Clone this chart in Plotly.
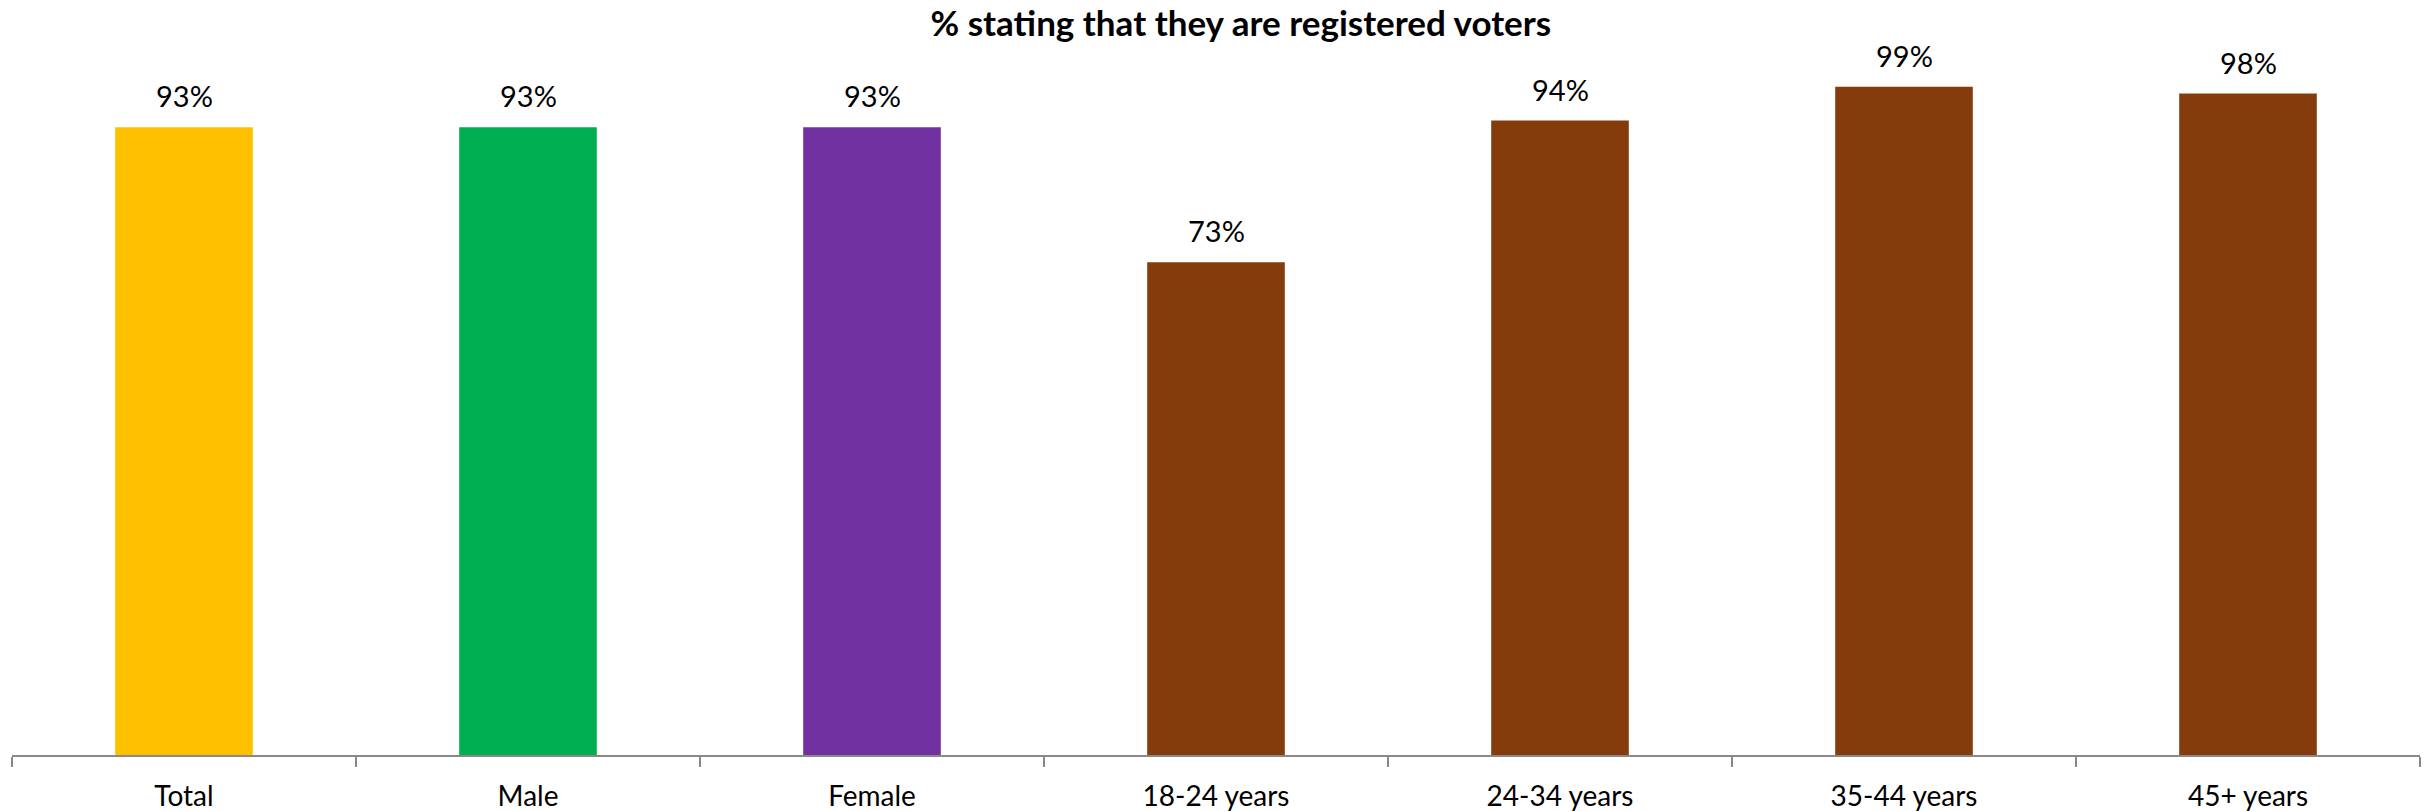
import plotly.graph_objects as go

categories = ["Total", "Male", "Female", "18-24 years", "24-34 years", "35-44 years", "45+ years"]
values = [93, 93, 93, 73, 94, 99, 98]
labels = ["93%", "93%", "93%", "73%", "94%", "99%", "98%"]
colors = ["#FFC000", "#00B050", "#7030A0", "#843C0C", "#843C0C", "#843C0C", "#843C0C"]

FONT = "Lato, Roboto, Arial, sans-serif"

fig = go.Figure(
    go.Bar(
        x=categories,
        y=values,
        marker=dict(color=colors, line=dict(width=0)),
        width=0.4,
        hoverinfo="x+y",
    )
)

for c, v, t in zip(categories, values, labels):
    fig.add_annotation(
        x=c, y=v, xref="x", yref="y",
        text=t, showarrow=False,
        yanchor="bottom", yshift=12,
        font=dict(family=FONT, size=29, color="#000000"),
    )

fig.update_layout(
    width=2433,
    height=811,
    paper_bgcolor="white",
    plot_bgcolor="white",
    margin=dict(l=12, r=13, t=80, b=56, autoexpand=False),
    showlegend=False,
    title=dict(
        text="<b>% stating that they are registered voters</b>",
        x=0.51,
        xanchor="center",
        y=0.971,
        yanchor="middle",
        font=dict(family=FONT, size=35, color="#000000"),
    ),
    xaxis=dict(
        type="category",
        automargin=False,
        showline=True,
        linecolor="#898989",
        linewidth=2,
        ticks="outside",
        tickson="boundaries",
        ticklen=10,
        tickwidth=2,
        tickcolor="#898989",
        showgrid=False,
        tickfont=dict(family=FONT, size=28, color="#000000"),
        ticklabelstandoff=15,
    ),
    yaxis=dict(
        range=[0, 100],
        visible=False,
        showgrid=False,
        zeroline=False,
        automargin=False,
    ),
)

fig.write_html(
    "out.html",
    config={"displayModeBar": False},
    post_script="document.body.style.margin='0';document.body.style.overflow='hidden';",
)
